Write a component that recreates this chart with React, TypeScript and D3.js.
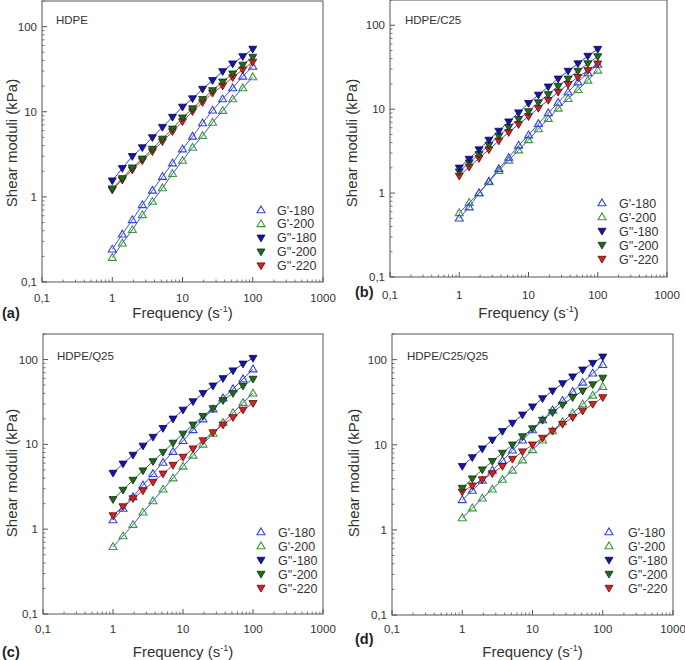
import React from "react";
import * as d3 from "d3";

// ---------- DATA ----------
const FREQ = [1, 1.39, 1.93, 2.68, 3.73, 5.18, 7.2, 10, 13.9, 19.3, 26.8, 37.3, 51.8, 72, 100];
const X_TICKS = [0.1, 1, 10, 100, 1000];
const X_TICK_LABELS = ["0,1", "1", "10", "100", "1000"];
const Y_TICKS = [0.1, 1, 10, 100];
const Y_TICK_LABELS = ["0,1", "1", "10", "100"];
const SERIES_NAMES = ["G'-180", "G'-200", "G''-180", "G''-200", "G''-220"];
const PANEL_TITLES = ["HDPE", "HDPE/C25", "HDPE/Q25", "HDPE/C25/Q25"];
const PANEL_LETTERS = ["(a)", "(b)", "(c)", "(d)"];

// Panel (a) HDPE
const A_G1_180 = [0.242, 0.364, 0.537, 0.805, 1.19, 1.73, 2.49, 3.64, 5.13, 7.36, 10.4, 14.1, 19, 26, 34];
const A_G1_200 = [0.193, 0.285, 0.41, 0.614, 0.88, 1.27, 1.87, 2.67, 3.8, 5.22, 7.48, 10.3, 14.1, 19, 25.6];
const A_G2_180 = [1.55, 2.17, 3.0, 3.8, 4.99, 6.6, 8.66, 11.4, 14.3, 18.5, 23.4, 29.8, 36.7, 44.7, 54.7];
const A_G2_200 = [1.25, 1.65, 2.2, 2.8, 3.65, 4.8, 6.3, 8.5, 10.9, 14, 17.8, 22.5, 28, 35.5, 44];
const A_G2_220 = [1.21, 1.58, 2.08, 2.67, 3.41, 4.47, 5.87, 7.69, 10.1, 12.9, 16.6, 20.2, 25.3, 31.2, 38.5];

// Panel (b) HDPE/C25
const B_G1_180 = [0.5, 0.68, 1.0, 1.38, 1.95, 2.65, 3.7, 4.9, 6.7, 9.0, 12, 16, 21, 27, 34];
const B_G1_200 = [0.58, 0.77, 1.0, 1.36, 1.85, 2.45, 3.25, 4.3, 5.8, 7.7, 10.2, 13.3, 17, 22, 29];
const B_G2_180 = [2.0, 2.55, 3.3, 4.3, 5.5, 7.1, 9.1, 11.8, 14.8, 18.5, 23, 28.5, 35, 43, 52];
const B_G2_200 = [1.8, 2.3, 2.9, 3.75, 4.8, 6.1, 7.6, 9.4, 12, 15, 18.8, 23, 28.5, 35, 42.5];
const B_G2_220 = [1.6, 2.05, 2.6, 3.3, 4.2, 5.3, 6.6, 8.2, 10.3, 12.8, 16, 19.8, 24, 29, 34.8];

// Panel (c) HDPE/Q25
const C_G1_180 = [1.28, 1.75, 2.4, 3.3, 4.5, 6.1, 8.2, 11, 14.8, 19.8, 26, 35, 45, 59, 77];
const C_G1_200 = [0.62, 0.83, 1.13, 1.58, 2.15, 2.95, 4.0, 5.5, 7.4, 10, 13.4, 18, 23.5, 31, 40];
const C_G2_180 = [4.6, 5.9, 7.5, 9.6, 12.2, 15.5, 20, 25.5, 32, 40, 49, 60, 74, 89, 104];
const C_G2_200 = [2.25, 2.9, 3.8, 4.9, 6.3, 8.1, 10.4, 13.3, 17, 21.5, 26.5, 33, 40, 49, 59];
const C_G2_220 = [1.45, 1.85, 2.3, 2.85, 3.6, 4.5, 5.7, 7.1, 8.9, 11.1, 13.8, 17, 20.8, 25.5, 30.5];

// Panel (d) HDPE/C25/Q25
const D_G1_180 = [2.25, 2.9, 3.8, 5.0, 6.5, 8.6, 11.3, 14.9, 19.5, 25.5, 33, 42, 54, 69, 87];
const D_G1_200 = [1.38, 1.8, 2.35, 3.0, 3.9, 5.0, 6.6, 8.7, 11.3, 14.5, 18.5, 23.5, 30, 38, 48];
const D_G2_180 = [5.6, 7.1, 9.0, 11.4, 14.4, 18, 22.5, 28, 35, 43, 52.5, 63, 76, 91, 108];
const D_G2_200 = [3.1, 4.0, 5.1, 6.4, 8.0, 10, 12.5, 15.5, 19.5, 24, 29.5, 36, 43, 51, 61];
const D_G2_220 = [2.8, 3.3, 3.9, 4.6, 5.6, 6.8, 8.3, 10, 12, 14.5, 17.5, 21, 25, 30, 36];

const PANEL_DATA = [
  [A_G1_180, A_G1_200, A_G2_180, A_G2_200, A_G2_220],
  [B_G1_180, B_G1_200, B_G2_180, B_G2_200, B_G2_220],
  [C_G1_180, C_G1_200, C_G2_180, C_G2_200, C_G2_220],
  [D_G1_180, D_G1_200, D_G2_180, D_G2_200, D_G2_220],
];

// ---------- STYLE / LAYOUT ----------
const FONT = "Liberation Sans, Arial, sans-serif";
const MARKER_STYLE = [
  { open: true, fill: "none", stroke: "#3344dd" },
  { open: true, fill: "none", stroke: "#3a9a3a" },
  { open: false, fill: "#1414a8", stroke: "#0a0a50" },
  { open: false, fill: "#1f6a1f", stroke: "#0c300c" },
  { open: false, fill: "#d42222", stroke: "#5a0a0a" },
];
const LINE_COLORS_DEFAULT = ["#4050e0", "#4050e0", "#3040d0", "#2a7a2a", "#d83030"];
const LINE_COLORS_B = ["#4050e0", "#4050e0", "#3040d0", "#4050e0", "#4050e0"];

const LAYOUT = [
  { left: 42, right: 323, top: 1, bottom: 282, tickY: 302, titleY: 318, letterX: 2, letterY: 318, ytX: 12, ytY: 143, legX: 261, legLX: 277, legY0: 210, legDY: 13.9, titleX: 56, titleTY: 24, lines: LINE_COLORS_DEFAULT },
  { left: 390, right: 667, top: 0, bottom: 277, tickY: 299, titleY: 318, letterX: 355, letterY: 297, ytX: 352, ytY: 143, legX: 602, legLX: 619, legY0: 203, legDY: 14, titleX: 405, titleTY: 24, lines: LINE_COLORS_B },
  { left: 43, right: 323, top: 334, bottom: 614, tickY: 633, titleY: 657, letterX: 2, letterY: 657, ytX: 12, ytY: 473, legX: 261, legLX: 278, legY0: 532, legDY: 14, titleX: 57, titleTY: 360, lines: LINE_COLORS_DEFAULT },
  { left: 392, right: 673, top: 334, bottom: 615, tickY: 633, titleY: 657, letterX: 355, letterY: 644, ytX: 354, ytY: 473, legX: 609, legLX: 628, legY0: 532, legDY: 14, titleX: 407, titleTY: 360, lines: LINE_COLORS_DEFAULT },
];

function triPath(cx: number, cy: number, up: boolean, s = 8) {
  const h = s * 0.85;
  if (up) {
    return `M${cx},${cy - h * 0.6}L${cx + s / 2},${cy + h * 0.4}L${cx - s / 2},${cy + h * 0.4}Z`;
  }
  return `M${cx},${cy + h * 0.6}L${cx + s / 2},${cy - h * 0.4}L${cx - s / 2},${cy - h * 0.4}Z`;
}

function Marker({ cx, cy, k }: { cx: number; cy: number; k: number }) {
  const st = MARKER_STYLE[k];
  return (
    <path
      d={triPath(cx, cy, st.open)}
      fill={st.fill}
      stroke={st.stroke}
      strokeWidth={st.open ? 1.1 : 0.8}
    />
  );
}

function Panel({ idx }: { idx: number }) {
  const L = LAYOUT[idx];
  const x = d3.scaleLog().domain([0.1, 1000]).range([L.left, L.right]);
  const y = d3.scaleLog().domain([0.1, 200]).range([L.bottom, L.top]);
  const data = PANEL_DATA[idx];

  const minorX: number[] = [];
  for (let dec = 0.1; dec < 1000; dec *= 10) {
    for (let m = 2; m <= 9; m++) minorX.push(dec * m);
  }
  const minorY: number[] = [];
  for (let dec = 0.1; dec < 200; dec *= 10) {
    for (let m = 2; m <= 9; m++) if (dec * m <= 200) minorY.push(dec * m);
  }

  const line = d3
    .line<number>()
    .x((_, i) => x(FREQ[i]))
    .y((v) => y(v));

  const axisColor = "#555";
  const drawOrder = [1, 0, 4, 3, 2];

  return (
    <g>
      <rect x={L.left} y={L.top} width={L.right - L.left} height={L.bottom - L.top} fill="none" stroke={axisColor} strokeWidth={1} />
      {X_TICKS.map((t) => (
        <line key={"xt" + t} x1={x(t)} x2={x(t)} y1={L.bottom} y2={L.bottom - 5} stroke={axisColor} />
      ))}
      {minorX.map((t, i) => (
        <line key={"xm" + i} x1={x(t)} x2={x(t)} y1={L.bottom} y2={L.bottom - 2.5} stroke={axisColor} strokeWidth={0.8} />
      ))}
      {Y_TICKS.map((t) => (
        <line key={"yt" + t} x1={L.left} x2={L.left + 5} y1={y(t)} y2={y(t)} stroke={axisColor} />
      ))}
      {minorY.map((t, i) => (
        <line key={"ym" + i} x1={L.left} x2={L.left + 2.5} y1={y(t)} y2={y(t)} stroke={axisColor} strokeWidth={0.8} />
      ))}
      {X_TICKS.map((t, i) => (
        <text key={"xl" + t} x={x(t)} y={L.tickY} fontSize={11.5} fill="#333" textAnchor="middle" fontFamily={FONT}>
          {X_TICK_LABELS[i]}
        </text>
      ))}
      {Y_TICKS.map((t, i) => (
        <text key={"yl" + t} x={L.left - 5} y={y(t) + 4} fontSize={11.5} fill="#333" textAnchor="end" fontFamily={FONT}>
          {Y_TICK_LABELS[i]}
        </text>
      ))}
      <text x={(L.left + L.right) / 2} y={L.titleY} fontSize={15} fill="#333" textAnchor="middle" fontFamily={FONT}>
        Frequency (s<tspan dy={-6} fontSize={9}>-1</tspan><tspan dy={6}>)</tspan>
      </text>
      <text
        transform={`translate(${L.ytX + 5},${L.ytY}) rotate(-90)`}
        fontSize={15}
        fill="#333"
        textAnchor="middle"
        fontFamily={FONT}
      >
        Shear moduli (kPa)
      </text>
      <text x={L.letterX} y={L.letterY} fontSize={14.5} fontWeight="bold" fill="#222" fontFamily={FONT}>
        {PANEL_LETTERS[idx]}
      </text>
      <text x={L.titleX} y={L.titleTY} fontSize={11.5} fill="#333" fontFamily={FONT}>
        {PANEL_TITLES[idx]}
      </text>
      {drawOrder.map((k) => (
        <path key={"ln" + k} d={line(data[k]) || ""} fill="none" stroke={L.lines[k]} strokeWidth={1} />
      ))}
      {drawOrder.map((k) => (
        <g key={"mk" + k}>
          {data[k].map((v, i) => (
            <Marker key={i} cx={x(FREQ[i])} cy={y(v)} k={k} />
          ))}
        </g>
      ))}
      {SERIES_NAMES.map((name, k) => (
        <g key={"lg" + k}>
          <Marker cx={L.legX} cy={L.legY0 + k * L.legDY} k={k} />
          <text x={L.legLX} y={L.legY0 + k * L.legDY + 4.5} fontSize={12.5} fill="#333" fontFamily={FONT}>
            {name}
          </text>
        </g>
      ))}
    </g>
  );
}

export default function App() {
  return (
    <svg
      width={685}
      height={660}
      style={{ position: "absolute", left: 0, top: 0, background: "#fff" }}
    >
      <rect x={0} y={0} width={685} height={660} fill="#fff" />
      {[0, 1, 2, 3].map((i) => (
        <Panel key={i} idx={i} />
      ))}
    </svg>
  );
}
